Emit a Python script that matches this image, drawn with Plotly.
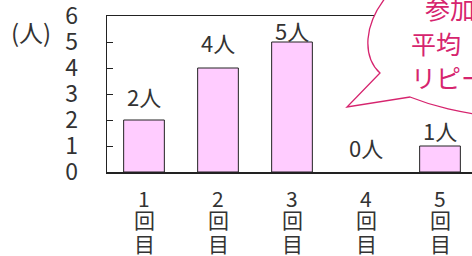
import plotly.graph_objects as go

categories = ["1回目", "2回目", "3回目", "4回目", "5回目"]
participants = [2, 4, 5, 0, 1]
y_ticks = [0, 1, 2, 3, 4, 5, 6]
unit_label = "(人)"
bubble_lines = ["参加者数", "平均　", "リピーター"]

W, H = 472, 256
L, R, T, B = 107, 0, 16, 84
pw, ph = W - L - R, H - T - B

FONT = "Noto Sans CJK JP"
TXT = "#333333"
PINK = "#d6246e"


def px2paper(x, y):
    return (x - L) / pw, (H - B - y) / ph


def path_from(cmds):
    out = []
    for c in cmds:
        if c[0] == "Z":
            out.append("Z")
            continue
        parts = [c[0]]
        pts = c[1:]
        for i in range(0, len(pts), 2):
            xp, yp = px2paper(pts[i], pts[i + 1])
            parts.append(f"{xp:.4f},{yp:.4f}")
        out.append(" ".join(parts))
    return " ".join(out)


fig = go.Figure()
fig.add_trace(go.Bar(
    x=categories, y=participants, width=0.55,
    marker=dict(color="#ffccff",
                line=dict(color="#222222",
                          width=[1 if v > 0 else 0 for v in participants])),
    hoverinfo="skip",
))

label_lift = [24, 26, 12, 25, 16]
for c, v, lift in zip(categories, participants, label_lift):
    fig.add_annotation(x=c, y=v, text=f"{v}人", showarrow=False,
                       yanchor="middle", yshift=lift,
                       font=dict(family=FONT, size=22, color=TXT))

# vertical category labels (one character per line)
char_drop = [26, 47, 71]
for c in categories:
    for ch, drop in zip(c, char_drop):
        fig.add_annotation(x=c, y=0, text=ch, showarrow=False,
                           yanchor="middle", yshift=-drop, borderpad=0,
                           font=dict(family=FONT, size=21, color=TXT))

bubble = path_from([
    ("M", 392, -10),
    ("C", 360, 25, 364, 58, 380, 73),
    ("L", 347, 107),
    ("L", 410, 97),
    ("C", 430, 105, 455, 113, 520, 120),
    ("L", 520, -10),
    ("Z",),
])
fig.add_shape(type="path", path=bubble, xref="paper", yref="paper",
              fillcolor="white", line=dict(color=PINK, width=1.3), layer="above")

line_pos = [(423, 8), (409, 43), (409, 77)]
for txt, (bx, by) in zip(bubble_lines, line_pos):
    xp, yp = px2paper(bx, by)
    fig.add_annotation(x=xp, y=yp, xref="paper", yref="paper", text=txt,
                       showarrow=False, xanchor="left", yanchor="middle",
                       font=dict(family=FONT, size=25, color=PINK))

ux, uy = px2paper(31, 32)
fig.add_annotation(x=ux, y=uy, xref="paper", yref="paper", text=unit_label,
                   showarrow=False, xanchor="center", yanchor="middle",
                   font=dict(family=FONT, size=24, color=TXT))

fig.update_layout(
    width=W, height=H, margin=dict(l=L, r=R, t=T, b=B, autoexpand=False),
    paper_bgcolor="white", plot_bgcolor="white", showlegend=False,
)
fig.update_xaxes(
    range=[-0.5, -0.5 + pw / 74], showticklabels=False, automargin=False,
    showline=True, linecolor="#222222", linewidth=1.5, mirror=True,
    ticks="", showgrid=False,
)
fig.update_yaxes(
    range=[0, 6], tickvals=y_ticks, showline=True, linecolor="#222222",
    linewidth=1.5, ticks="inside", ticklen=6, tickcolor="#222222",
    showgrid=False, zeroline=False, ticklabelstandoff=23, automargin=False,
    ticklabeloverflow="allow",
    tickfont=dict(family=FONT, size=23, color=TXT),
)

fig.write_html(
    "out.html",
    config={"displayModeBar": False, "staticPlot": True},
    post_script="document.body.style.margin='0';document.body.style.overflow='hidden';",
)
